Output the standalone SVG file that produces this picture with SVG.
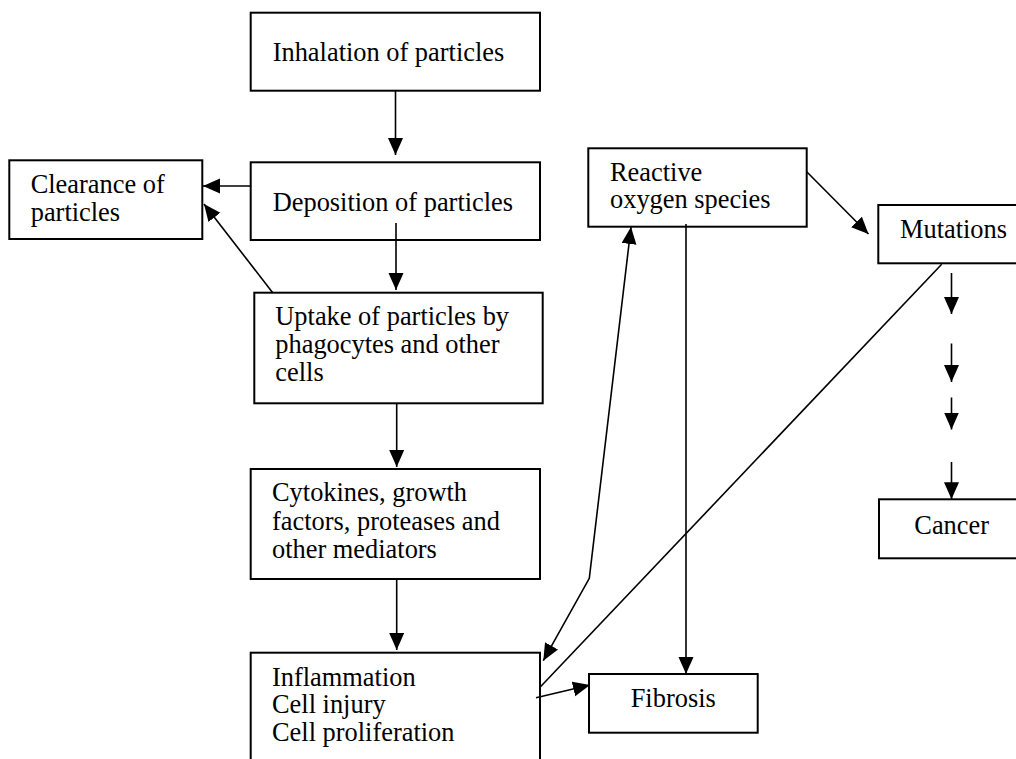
<svg xmlns="http://www.w3.org/2000/svg" width="1016" height="759" viewBox="0 0 1016 759">
<style>
  .box { fill: #fff; stroke: #000; stroke-width: 2; }
  .lbl { font-family: "Liberation Serif", "Times New Roman", serif; font-size: 26.4px; fill: #000; }
  .c { fill: none; stroke: #000; stroke-width: 1.6; }
  .a { marker-end: url(#ah); }
</style>
<defs>
  <marker id="ah" markerUnits="userSpaceOnUse" markerWidth="18" markerHeight="16" refX="17" refY="7.5" orient="auto-start-reverse">
    <path d="M0,0 L17,7.5 L0,15 z" fill="#000"/>
  </marker>
</defs>
<rect width="1016" height="759" fill="#fff"/>

<g id="connectors">
  <line class="c a" x1="395.5" y1="91" x2="395.5" y2="155"/>
  <line class="c a" x1="250.7" y1="186" x2="203" y2="186"/>
  <line class="c a" x1="396" y1="223" x2="396" y2="290"/>
  <line class="c a" x1="272.7" y1="292.7" x2="204" y2="204"/>
  <line class="c a" x1="396.7" y1="403.3" x2="396.7" y2="467"/>
  <line class="c a" x1="396.7" y1="579" x2="396.7" y2="650"/>
  <polyline class="c a" style="marker-start:url(#ah)" points="631,227 589.3,578.3 543.3,660.7"/>
  <line class="c a" x1="686" y1="224" x2="686" y2="674"/>
  <line class="c a" x1="806.7" y1="171.7" x2="868.5" y2="234"/>
  <line class="c" x1="941.7" y1="264.3" x2="540" y2="687.3"/>
  <line class="c a" x1="536" y1="697.7" x2="590" y2="685"/>
  <line class="c a" x1="951.5" y1="273" x2="951.5" y2="314"/>
  <line class="c a" x1="951.5" y1="343.5" x2="951.5" y2="382"/>
  <line class="c a" x1="951.5" y1="397.5" x2="951.5" y2="429.5"/>
  <line class="c a" x1="951.5" y1="462" x2="951.5" y2="499.3"/>
</g>

<g id="inhalation">
  <rect class="box" x="250.7" y="12.7" width="289.3" height="78"/>
  <text class="lbl" x="272.7" y="61">Inhalation of particles</text>
</g>
<g id="deposition">
  <rect class="box" x="250.7" y="162.3" width="289.3" height="77.7" style="fill:none"/>
  <text class="lbl" x="272.7" y="210.7">Deposition of particles</text>
</g>
<g id="clearance">
  <rect class="box" x="9.3" y="160.3" width="193" height="78.7"/>
  <text class="lbl" x="30.7" y="193.3">Clearance of</text>
  <text class="lbl" x="30.7" y="220.5">particles</text>
</g>
<g id="uptake">
  <rect class="box" x="254.3" y="292.7" width="288.4" height="110.6"/>
  <text class="lbl" x="275.3" y="325">Uptake of particles by</text>
  <text class="lbl" x="275.3" y="352.7">phagocytes and other</text>
  <text class="lbl" x="275.3" y="381">cells</text>
</g>
<g id="cytokines">
  <rect class="box" x="250.7" y="469" width="289.3" height="110"/>
  <text class="lbl" x="272" y="500.7">Cytokines, growth</text>
  <text class="lbl" x="272" y="529.7">factors, proteases and</text>
  <text class="lbl" x="272" y="558">other mediators</text>
</g>
<g id="inflammation">
  <rect class="box" x="250.7" y="652.7" width="289.3" height="120" style="fill:none"/>
  <text class="lbl" x="272" y="685.7">Inflammation</text>
  <text class="lbl" x="272" y="713.3">Cell injury</text>
  <text class="lbl" x="272" y="741.3">Cell proliferation</text>
</g>
<g id="ros">
  <rect class="box" x="588.3" y="148.3" width="218.4" height="78.4" style="fill:none"/>
  <text class="lbl" x="610" y="180.7">Reactive</text>
  <text class="lbl" x="610" y="208.3">oxygen species</text>
</g>
<g id="mutations">
  <rect class="box" x="878.3" y="205" width="145" height="58.3"/>
  <text class="lbl" x="900" y="237.5">Mutations</text>
</g>
<g id="cancer">
  <rect class="box" x="879" y="499.3" width="145" height="59"/>
  <text class="lbl" x="914.3" y="533.5">Cancer</text>
</g>
<g id="fibrosis">
  <rect class="box" x="589" y="674" width="168.7" height="58.7"/>
  <text class="lbl" x="630.7" y="706.7">Fibrosis</text>
</g>
</svg>
